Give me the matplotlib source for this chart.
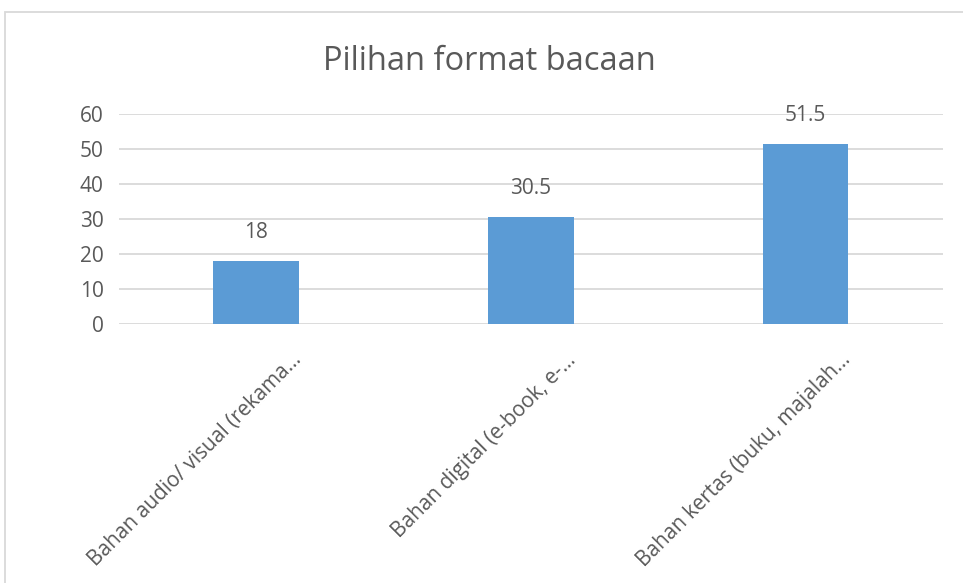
import matplotlib.pyplot as plt
import matplotlib.transforms as mtransforms
from matplotlib.patches import Rectangle

# Data
categories = ['Bahan audio/ visual (rekama...', 'Bahan digital (e-book, e-...', 'Bahan kertas (buku, majalah...']
values = [18, 30.5, 51.5]
value_labels = ['18', '30.5', '51.5']
y_ticks = [0, 10, 20, 30, 40, 50, 60]

plt.rcParams['font.family'] = ['Open Sans', 'DejaVu Sans']
text_color = '#595959'

fig = plt.figure(figsize=(9.63, 5.83), dpi=100)
ax = fig.add_axes([0.1236, 0.4443, 0.8554, 0.3602])

x = list(range(len(categories)))
ax.bar(x, values, width=0.313, color='#5B9BD5', zorder=3)

ax.set_xlim(-0.5, len(categories) - 0.5)
ax.set_ylim(0, 60)
ax.set_yticks(y_ticks)
ax.set_yticklabels([str(t) for t in y_ticks], fontsize=15, color=text_color)
ax.tick_params(axis='y', length=0, pad=11)
ax.set_xticks([])

ax.grid(axis='y', color='#D9D9D9', linewidth=1.3, zorder=0)
for s in ax.spines.values():
    s.set_visible(False)

# Data labels
for xi, v, lab in zip(x, values, value_labels):
    ax.annotate(lab, (xi, v), xytext=(0, 13), textcoords='offset points',
                ha='center', va='bottom', fontsize=15, color=text_color)

# Rotated category labels
offset = mtransforms.ScaledTranslation(0.42, -0.33, fig.dpi_scale_trans)
for xi, cat in zip(x, categories):
    ax.text(xi, 0, cat, transform=ax.get_xaxis_transform() + offset,
            rotation=45, rotation_mode='anchor', ha='right', va='center',
            fontsize=15, color=text_color)

fig.text(0.508, 0.895, 'Pilihan format bacaan', ha='center', va='center',
         fontsize=23.5, color=text_color)

# Chart border
fig.patches.append(Rectangle((5 / 963, -0.1), 1.1, 1 - 12 / 583 + 0.1,
                             transform=fig.transFigure, fill=False,
                             edgecolor='#D9D9D9', linewidth=1.3))

plt.savefig('out.png', dpi=100)
